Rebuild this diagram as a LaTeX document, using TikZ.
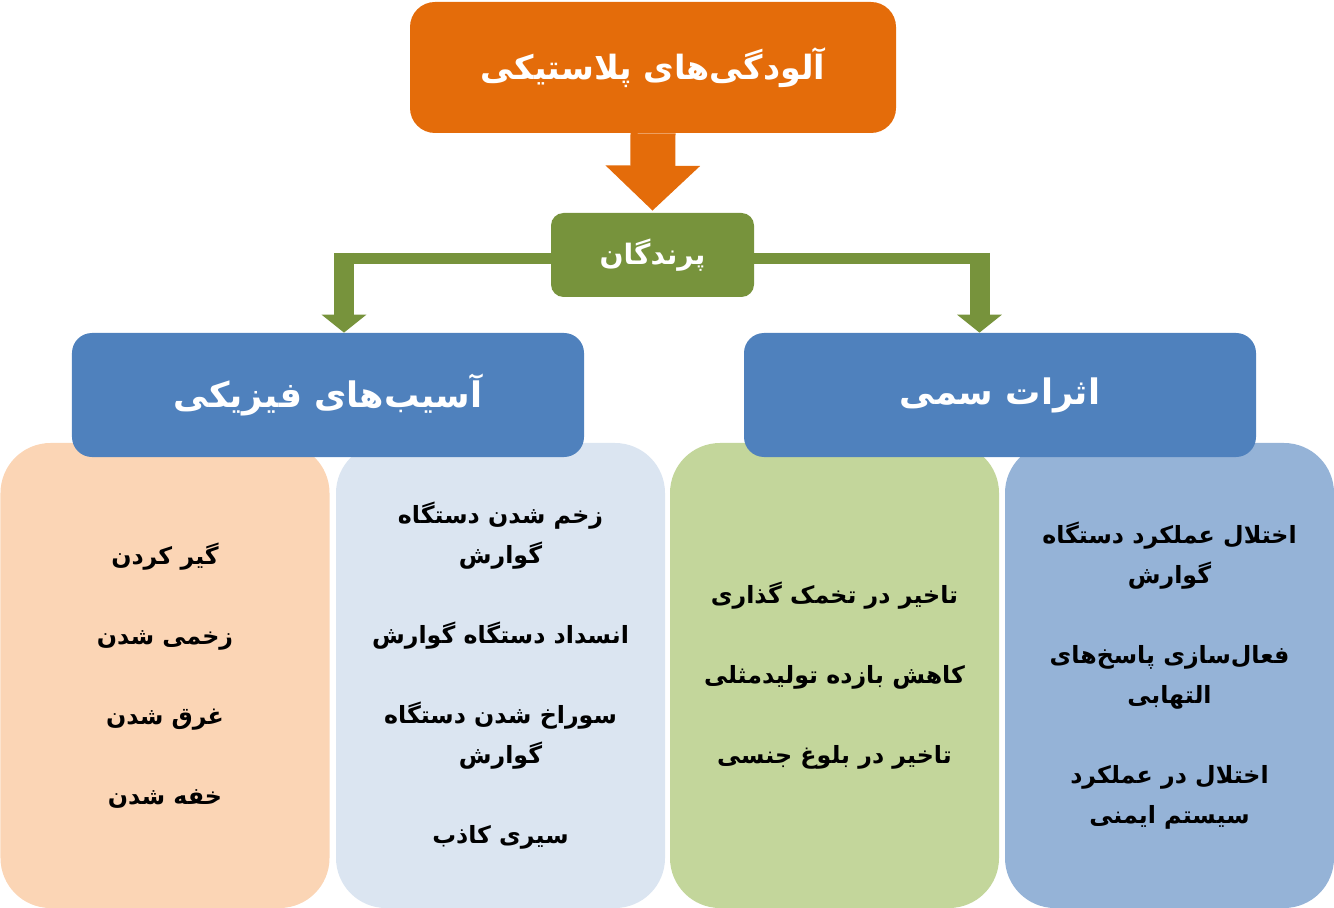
\documentclass[tikz,border=0pt]{standalone}
\usepackage{fontspec}
\newfontfamily\farsi[Script=Arabic]{DejaVu Sans}
\TeXXeTstate=1
\usetikzlibrary{arrows.meta, positioning, calc}
\definecolor{PlasticOrange}{RGB}{228,108,10}
\definecolor{BirdGreen}{RGB}{119,147,60}
\definecolor{HeadBlue}{RGB}{79,129,189}
\definecolor{PeachFill}{RGB}{251,213,181}
\definecolor{PaleBlue}{RGB}{219,229,241}
\definecolor{PaleGreen}{RGB}{195,214,155}
\definecolor{MidBlue}{RGB}{149,179,215}
\newcommand{\rtl}[1]{\beginR #1\endR}

\begin{document}
\begin{tikzpicture}[
    x=0.2mm, y=-0.2mm,
    topbox/.style={rectangle, fill=PlasticOrange, rounded corners=5mm, inner sep=0pt,
                   minimum width=97.2mm, minimum height=26.2mm, text=white,
                   font=\farsi\bfseries\fontsize{19}{24}\selectfont},
    birdbox/.style={rectangle, fill=BirdGreen, rounded corners=2.5mm, inner sep=0pt,
                    minimum width=40.6mm, minimum height=16.8mm, text=white,
                    font=\farsi\bfseries\fontsize{16}{20}\selectfont},
    headbox/.style={rectangle, fill=HeadBlue, rounded corners=4mm, inner sep=0pt,
                    minimum width=102.4mm, minimum height=24.8mm, text=white,
                    font=\farsi\bfseries\fontsize{20}{24}\selectfont},
    colbox/.style={rectangle, rounded corners=10mm, inner sep=0pt, align=center,
                   minimum width=65.8mm, minimum height=93mm, text=black,
                   font=\farsi\bfseries\fontsize{13.5}{22.8}\selectfont},
    gbar/.style={BirdGreen, line width=2.2mm},
    garr/.style={BirdGreen, line width=4mm, -{Triangle[width=8.8mm, length=3.6mm]}},
    oarr/.style={PlasticOrange, line width=9mm, -{Triangle[width=18.4mm, length=9mm]}}
]
\useasboundingbox (0,0) rectangle (1334,908);

% lower columns
\node[colbox, fill=PeachFill] (trap) at (165,675.5)
  {\rtl{گیر کردن}\\[22.8pt] \rtl{زخمی شدن}\\[22.8pt] \rtl{غرق شدن}\\[22.8pt] \rtl{خفه شدن}};
\node[colbox, fill=PaleBlue] (gut) at (500.5,675.5)
  {\rtl{زخم شدن دستگاه}\\ \rtl{گوارش}\\[22.8pt] \rtl{انسداد دستگاه گوارش}\\[22.8pt]
   \rtl{سوراخ شدن دستگاه}\\ \rtl{گوارش}\\[22.8pt] \rtl{سیری کاذب}};
\node[colbox, fill=PaleGreen] (repro) at (834.5,675.5)
  {\rtl{تاخیر در تخمک گذاری}\\[22.8pt] \rtl{کاهش بازده تولیدمثلی}\\[22.8pt] \rtl{تاخیر در بلوغ جنسی}};
\node[colbox, fill=MidBlue] (immune) at (1169.5,675.5)
  {\rtl{اختلال عملکرد دستگاه}\\ \rtl{گوارش}\\[22.8pt] \rtl{فعال‌سازی پاسخ‌های}\\ \rtl{التهابی}\\[22.8pt]
   \rtl{اختلال در عملکرد}\\ \rtl{سیستم ایمنی}};

% headers
\node[headbox] (phys) at (328,395) {\rtl{آسیب‌های فیزیکی}};
\node[headbox] (tox) at (1000,395) {\rtl{اثرات سمی}};

% top of the tree
\node[topbox] (plastic) at (653,67.5) {\rtl{آلودگی‌های پلاستیکی}};
\node[birdbox] (birds) at (652.5,255) {\rtl{پرندگان}};

\coordinate (lk) at (344,258.5);
\coordinate (rk) at (979.5,258.5);

\draw[oarr] (plastic.south) -- ([yshift=0.4mm]birds.north);
\draw[gbar] (birds.west |- lk) -- (lk);
\draw[gbar] (birds.east |- rk) -- (rk);
\draw[garr] ([yshift=1.1mm]lk) -- (lk |- phys.north);
\draw[garr] ([yshift=1.1mm]rk) -- (rk |- tox.north);
\end{tikzpicture}
\end{document}
